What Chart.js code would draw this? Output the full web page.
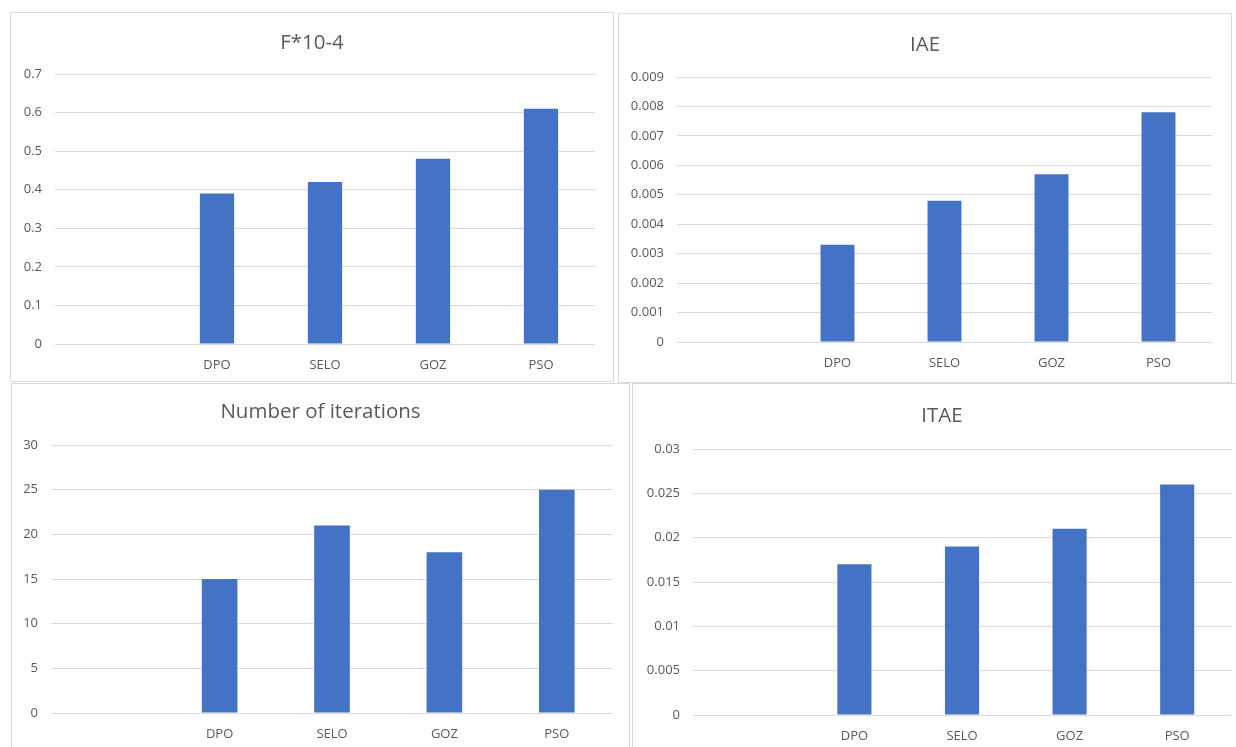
<!DOCTYPE html>
<html>
<head>
<meta charset="utf-8">
<script src="https://cdn.jsdelivr.net/npm/chart.js@4.4.0/dist/chart.umd.min.js"></script>
<style>
  body { margin: 0; background: #fff; width: 1236px; height: 747px; overflow: hidden; position: relative; }
  .panel { position: absolute; border: 1px solid #d9d9d9; background: #fff; box-sizing: border-box; }
  .panel canvas { display: block; }
  .title { position: absolute; left: 0; right: 0; text-align: center; color: #595959;
           font: 20.5px 'Open Sans', 'Noto Sans', sans-serif; line-height: 24px; }
  #p1 { left: 10px; top: 12px; width: 604px; height: 370px; }
  #p2 { left: 618px; top: 13px; width: 614px; height: 370px; }
  #p3 { left: 11px; top: 383px; width: 619px; height: 380px; }
  #p4 { left: 632px; top: 383px; width: 620px; height: 380px; }
  #p1 .title { top: 16px; }
  #p2 .title { top: 17px; }
  #p3 .title { top: 14px; }
  #p4 .title { top: 18px; }
</style>
</head>
<body>
<div class="panel" id="p1"><div class="title">F*10-4</div><canvas id="c1" width="602" height="368"></canvas></div>
<div class="panel" id="p2"><div class="title">IAE</div><canvas id="c2" width="612" height="368"></canvas></div>
<div class="panel" id="p3"><div class="title">Number of iterations</div><canvas id="c3" width="617" height="378"></canvas></div>
<div class="panel" id="p4"><div class="title">ITAE</div><canvas id="c4" width="618" height="378"></canvas></div>
<script>
// so sánh các thuật toán
const methods = ["", "DPO", "SELO", "GOZ", "PSO"];
const fValues = [null, 0.39, 0.42, 0.48, 0.61];
const iaeValues = [null, 0.0033, 0.0048, 0.0057, 0.0078];
const iterValues = [null, 15, 21, 18, 25];
const itaeValues = [null, 0.017, 0.019, 0.021, 0.026];

// trục y: [max, step]
const fAxis = [0.7, 0.1];
const iaeAxis = [0.009, 0.001];
const iterAxis = [30, 5];
const itaeAxis = [0.03, 0.005];

const FONT = "'Open Sans', 'Noto Sans', sans-serif";
const TEXT = "#595959";

// box: lề vùng vẽ trong canvas {l, t, r, b}
function veBieuDo(id, title, values, axis, box) {
  new Chart(document.getElementById(id), {
    type: "bar",
    data: {
      labels: methods,
      datasets: [
        {
          label: title,
          data: values,
          backgroundColor: "#4472C4",
          categoryPercentage: 1,
          barPercentage: 0.317,
        },
      ],
    },
    options: {
      responsive: false,
      animation: false,
      layout: { padding: { left: 0, right: box.r, top: box.t, bottom: 0 } },
      scales: {
        x: {
          grid: { display: false, drawTicks: false },
          border: { display: false },
          ticks: { color: TEXT, font: { family: FONT, size: 13 }, padding: 13 },
          afterFit: (s) => { s.height = box.b; },
        },
        y: {
          min: 0,
          max: axis[0],
          grid: { color: "#d9d9d9", lineWidth: 1, drawTicks: false },
          border: { display: false },
          ticks: {
            stepSize: axis[1],
            color: TEXT,
            font: { family: FONT, size: 13 },
            padding: 13,
            callback: (v) => String(+v.toFixed(6)),
          },
          afterFit: (s) => { s.width = box.l; },
        },
      },
      plugins: {
        legend: { display: false },
        tooltip: { enabled: false },
      },
    },
  });
}

veBieuDo("c1", "F*10-4", fValues, fAxis, { l: 44, t: 61, r: 18, b: 37 });
veBieuDo("c2", "IAE", iaeValues, iaeAxis, { l: 58, t: 63, r: 19, b: 40 });
veBieuDo("c3", "Number of iterations", iterValues, iterAxis, { l: 39, t: 61, r: 16, b: 49 });
veBieuDo("c4", "ITAE", itaeValues, itaeAxis, { l: 60, t: 65, r: 20, b: 47 });
</script>
</body>
</html>
